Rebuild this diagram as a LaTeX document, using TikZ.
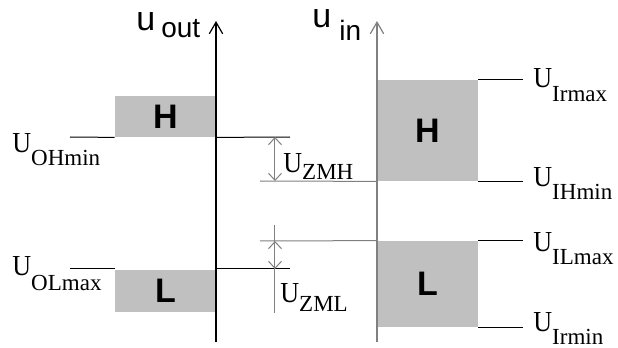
\documentclass[tikz,border=0pt]{standalone}
\usepackage{fontspec}
\setmainfont{Liberation Serif}
\setsansfont{Liberation Sans}
\usetikzlibrary{arrows.meta}
\definecolor{bandgray}{HTML}{C0C0C0}
\definecolor{linegray}{HTML}{808080}
\newcommand{\ulab}[2][7pt]{\scalebox{0.9}[1]{U}\raisebox{-#1}{\fontsize{11.5}{13}\selectfont #2}}
\newcommand{\ubig}{{\fontsize{17}{19}\selectfont u}}
\tikzset{
  axis/.style={line width=0.6pt,-{Straight Barb[length=5.8pt,width=6.7pt]}},
  lvl/.style={line width=0.5pt},
  dimln/.style={line width=0.5pt,draw=linegray},
  dimarr/.style={dimln,{Straight Barb[length=3.5pt,width=6.5pt]}-{Straight Barb[length=3.5pt,width=6.5pt]}},
  band/.style={fill=bandgray,inner sep=0pt,font=\fontsize{17}{19}\sffamily\bfseries},
  ulabel/.style={anchor=base west,inner sep=0pt,font=\fontsize{14.5}{16}\selectfont},
  axlabel/.style={anchor=base west,inner sep=0pt,font=\fontsize{14}{16}\sffamily},
}
\begin{document}
\begin{tikzpicture}[x=0.5pt,y=-0.5pt]
\useasboundingbox (0,0) rectangle (618,348);
% output levels
\node[band,minimum width=50.5pt,minimum height=20.5pt] (oH) at (165.5,116.5) {H};
\node[band,minimum width=50.5pt,minimum height=21pt] (oL) at (165.5,291) {L};
\coordinate (oT) at (216,21);\coordinate (oB) at (216,342);
\draw[axis] (oB)--(oT);
\node[axlabel] (uout) at (136,31) {\ubig\hspace{3pt}\raisebox{-3.5pt}{out}};
% input levels
\node[band,minimum width=50.5pt,minimum height=50.5pt] (iH) at (427.5,130.5) {H};
\node[band,minimum width=50.5pt,minimum height=43pt] (iL) at (427.5,284) {L};
\coordinate (iT) at (377,21);\coordinate (iB) at (377,342);
\draw[axis,draw=linegray] (iB)--(iT);
\node[axlabel] (uin) at (312,27) {\ubig\hspace{4pt}\raisebox{-6.5pt}{in}};
% label lines
\coordinate (ohl) at (70,137);\coordinate (ohr) at (290,137);
\coordinate (oll) at (70,269);\coordinate (olr) at (290,269);
\draw[lvl] (ohl)--(oH.south west);\draw[lvl] (oH.south east)--(ohr);
\draw[lvl] (oll)--(115,269);\draw[lvl] (216,269)--(olr);
\coordinate (ihl) at (260,181);\coordinate (ill) at (260,241);
\draw[dimln] (ihl)--(iH.south west);\draw[dimln] (ill)--(iL.north west);
\foreach \a/\b in {iH.north east/irmax,iH.south east/ihmin,iL.north east/ilmax,iL.south east/irmin}
  \draw[lvl] (\a)--++(45,0) coordinate (\b);
% margins
\coordinate (zht) at (275,137);\coordinate (zhb) at (275,181);
\coordinate (zlt) at (275,241);\coordinate (zlb) at (275,269);
\coordinate (zle) at (275,225);\coordinate (zlf) at (275,313);
\draw[dimarr] (zht)--(zhb);
\draw[dimln] (zle)--(zlf);
\draw[dimarr] (zlt)--(zlb);
% texts
\node[ulabel] (lOH) at (12,153) {\ulab[6pt]{OHmin}};
\node[ulabel] (lOL) at (12,276) {\ulab[7.5pt]{OLmax}};
\node[ulabel] (lZH) at (283,173) {\ulab[3.5pt]{ZMH}};
\node[ulabel] (lZL) at (280,303) {\ulab[4.5pt]{ZML}};
\node[ulabel] (lIrx) at (533,88) {\ulab[7pt]{Irmax}};
\node[ulabel] (lIH) at (533,187) {\ulab[6pt]{IHmin}};
\node[ulabel] (lIL) at (533,252) {\ulab[6pt]{ILmax}};
\node[ulabel] (lIrn) at (533,332) {\ulab[6pt]{Irmin}};
\end{tikzpicture}
\end{document}
